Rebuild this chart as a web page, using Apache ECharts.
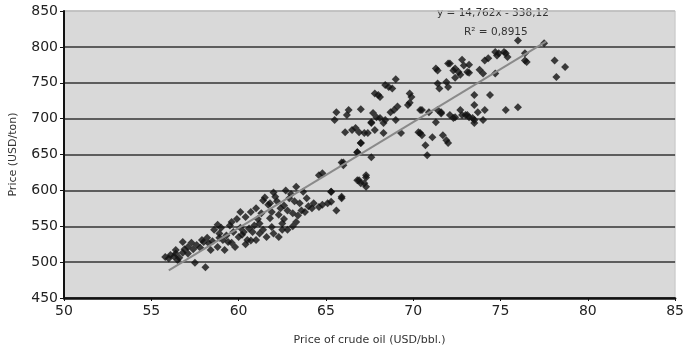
<!DOCTYPE html>
<html><head><meta charset="utf-8">
<script src="https://cdn.jsdelivr.net/npm/echarts@6/dist/echarts.min.js"></script>
<style>html,body{margin:0;padding:0;background:#fff}#c{width:687px;height:352px}</style>
</head><body><div id="c"></div>
<script>
// crude oil price (USD/bbl.)
const oilPrice = [
55.8,56.0,56.3,56.5,56.4,56.8,56.8,57.1,57.5,58.1,57.6,57.9,58.2,58.4,58.8,58.8,58.9,59.1,59.2,59.6,
59.7,59.8,60.1,60.2,60.5,60.7,60.8,61.0,61.2,61.4,61.4,61.6,61.8,61.8,61.9,62.1,62.3,62.3,62.5,62.6,
62.7,62.8,62.9,63.1,63.3,63.3,63.5,63.6,63.9,63.8,64.2,64.6,64.8,65.1,65.3,65.3,65.6,65.9,64.6,64.8,
65.9,66.0,66.8,67.0,66.8,67.2,67.3,
56.1,56.4,56.6,56.9,57.1,57.3,57.4,57.8,58.0,58.3,58.5,58.6,58.9,59.0,59.3,59.4,59.5,59.9,60.0,60.1,
60.3,60.4,60.6,60.9,61.0,61.1,61.3,61.5,61.7,61.9,62.0,62.2,62.4,62.6,62.8,63.0,63.2,63.4,63.7,64.0,
64.3,63.1,62.0,62.5,61.2,60.7,59.6,60.4,
69.0,68.4,68.6,68.8,67.8,68.0,68.1,69.8,69.9,69.8,69.1,69.7,65.6,65.5,66.3,66.2,67.0,67.7,67.9,68.1,
68.4,68.3,68.7,68.9,69.0,67.6,67.6,66.1,66.5,66.7,66.9,67.2,67.4,67.8,68.3,69.3,70.4,70.4,67.0,66.8,
66.0,67.6,70.7,70.8,66.9,67.3,67.0,67.3,65.3,65.9,
71.4,72.1,72.4,72.6,72.8,73.2,72.4,73.2,72.7,71.4,71.5,71.9,72.0,73.8,74.0,74.3,74.7,74.9,75.3,75.4,
76.0,76.4,74.7,73.5,73.5,74.4,70.5,70.9,71.4,71.6,72.1,72.3,72.4,72.7,72.8,73.0,73.2,73.4,73.7,73.5,
74.0,74.1,75.3,76.0,71.3,70.3,70.5,71.1,71.7,71.9,72.0,
76.4,76.5,78.1,78.7,78.2,77.5,71.3,72.0,72.3,72.9,73.1,74.1,74.8,75.2,71.6,73.1,73.5
];
// price (USD/ton)
const productPrice = [
507,505,508,503,517,528,513,521,499,493,524,531,534,517,521,552,540,531,517,556,
542,521,570,538,531,570,542,531,554,586,545,535,561,582,549,591,566,535,554,579,
600,545,589,568,605,556,582,572,589,570,575,577,580,582,584,598,572,589,621,624,
639,635,653,666,614,610,621,
510,512,506,518,512,527,518,520,528,526,529,545,534,548,537,528,551,560,535,548,
542,563,547,551,575,560,568,590,580,570,597,585,575,560,572,595,585,565,598,578,
582,550,540,545,540,530,527,525,
755,747,744,742,735,733,730,735,730,722,717,719,709,698,712,705,713,708,702,701,
698,694,709,712,698,695,694,681,684,687,681,680,680,684,680,680,712,680,666,653,
639,646,663,649,614,618,610,605,598,591,
767,777,770,765,782,775,757,764,761,749,742,751,744,768,763,784,793,791,791,786,
809,791,763,733,719,733,712,709,712,709,705,701,702,712,705,705,702,701,709,698,
698,712,712,716,695,681,677,674,677,670,666,
781,779,781,772,758,805,770,777,767,774,765,781,788,793,707,705,694
];
// trend line y = 14.762x - 338.12
const slope = 14.762, intercept = -338.12;
const trendX = [56, 77.6];
const xTicks = [50, 85, 5];
const yTicks = [450, 850, 50];

const pts = oilPrice.map((x, i) => [x, productPrice[i]]);
const trend = trendX.map(x => [x, slope * x + intercept]);

const FONT = 'DejaVu Sans, Arial, sans-serif';
const chart = echarts.init(document.getElementById('c'), null, {renderer: 'canvas'});
const lab = {color: '#222', fontFamily: FONT, fontSize: 14};
chart.setOption({
  animation: false,
  grid: {left: 62, right: 8, top: 11, bottom: 54, show: true, backgroundColor: '#d9d9d9', borderColor: '#c4c4c4', borderWidth: 1},
  xAxis: {
    type: 'value', min: xTicks[0], max: xTicks[1], interval: xTicks[2],
    name: 'Price of crude oil (USD/bbl.)', nameLocation: 'middle', nameGap: 37,
    nameTextStyle: {color: '#333', fontSize: 11, fontFamily: FONT},
    axisLine: {show: true, onZero: false, lineStyle: {color: '#111', width: 2.5}},
    axisTick: {show: true, length: 3, lineStyle: {color: '#111'}},
    axisLabel: Object.assign({margin: 6}, lab),
    splitLine: {show: false}
  },
  yAxis: {
    type: 'value', min: yTicks[0], max: yTicks[1], interval: yTicks[2],
    name: 'Price (USD/ton)', nameLocation: 'middle', nameGap: 45, nameRotate: 90,
    nameTextStyle: {color: '#333', fontSize: 11, fontFamily: FONT},
    axisLine: {show: true, onZero: false, lineStyle: {color: '#111', width: 2}},
    axisTick: {show: true, length: 4, lineStyle: {color: '#111'}},
    axisLabel: Object.assign({margin: 6}, lab),
    splitLine: {show: true, lineStyle: {color: ['#333','#333','#333','#333','#333','#333','#333','#333','#bdbdbd'], width: 1.6}}
  },
  series: [
    {type: 'scatter', data: pts, symbol: 'diamond', symbolSize: 8, itemStyle: {color: '#111'}, z: 3},
    {type: 'line', data: trend, symbol: 'none', lineStyle: {color: '#8a8a8a', width: 2}, z: 4}
  ],
  graphic: [
    {type: 'text', left: 437, top: 8, style: {text: 'y = 14,762x - 338,12', fill: '#333', font: '10.5px DejaVu Sans, Arial, sans-serif'}},
    {type: 'text', left: 464, top: 27, style: {text: 'R² = 0,8915', fill: '#333', font: '10.5px DejaVu Sans, Arial, sans-serif'}}
  ]
});
</script></body></html>
